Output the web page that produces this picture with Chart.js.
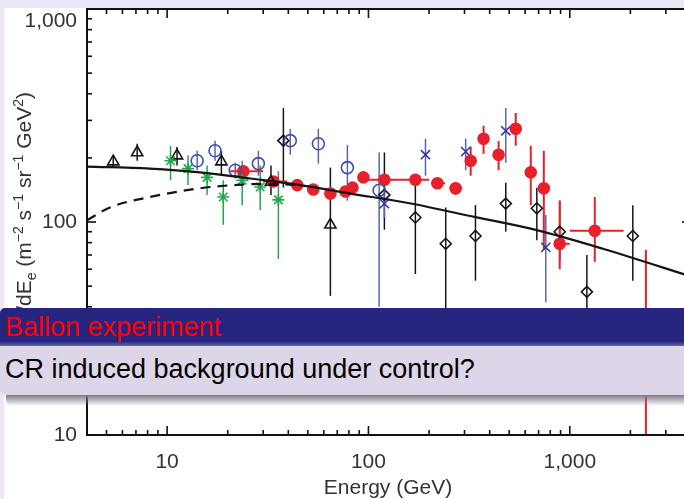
<!DOCTYPE html>
<html>
<head>
<meta charset="utf-8">
<script src="https://cdn.jsdelivr.net/npm/chart.js@4.4.1/dist/chart.umd.min.js"></script>
<style>
  html, body { margin: 0; padding: 0; }
  body { width: 684px; height: 499px; overflow: hidden; position: relative; background: #ffffff; }
  #chart { position: absolute; left: 0; top: 0; }
  .blk { position: absolute; left: 0; top: 308px; width: 700px; font-family: "Liberation Sans", Arial, sans-serif; font-size: 27px; }
  .blk-title { height: 38px; line-height: 38px; padding-left: 5px; color: #ff0000;
               background: linear-gradient(#262680 0%, #262680 88%, #6a66a8 100%); border-top-left-radius: 5px; }
  .blk-body { height: 49px; line-height: 46px; padding-left: 5px; color: #000;
              background: #ddd5e8; border-bottom-left-radius: 6px; }
  .blk-shadow { position: absolute; left: 6px; top: 395px; width: 700px; height: 11px;
                background: linear-gradient(#807888, rgba(255,255,255,0)); border-bottom-left-radius: 6px; }
</style>
</head>
<body>
<canvas id="chart" width="700" height="499"></canvas>
<div class="blk-shadow"></div>
<div class="blk">
  <div class="blk-title">Ballon experiment</div>
  <div class="blk-body">CR induced background under control?</div>
</div>
<script>
// ── Axis ticks ──────────────────────────────────────────────────────
const xTickLabels = [10, 100, 1000];
const yTickLabels = [10, 100, 1000];
const xMinorTicks = [5, 6, 7, 8, 9, 20, 30, 40, 50, 60, 70, 80, 90, 200, 300, 400, 500, 600, 700, 800, 900, 2000, 3000];
const yMinorTicks = [20, 30, 40, 50, 60, 70, 80, 90, 200, 300, 400, 500, 600, 700, 800, 900];

// ── Black open triangles ────────────────────────────────────────────
const triE  = [5.4, 7.1, 11.2, 18.6, 32.8, 64.7];
const triF  = [192, 212, 205, 192, 154, 97];
const triLo = [180, 194, 184, 167, 134, 45];
const triHi = [204, 233, 225, 216, 184, 180];

// ── Blue open circles ───────────────────────────────────────────────
const bcE  = [14.1, 17.3, 21.8, 28.4, 40.9, 56.4, 78.6, 113];
const bcF  = [194, 216, 175, 188, 241, 233, 180, 141];
const bcLo = [175, 194, 160, 165, 207, 188, 126, 40];
const bcHi = [216, 241, 190, 216, 274, 274, 230, 212];

// ── Blue crosses ────────────────────────────────────────────────────
const bxE  = [120, 192, 304, 481, 760];
const bxF  = [122, 207, 214, 268, 76];
const bxLo = [105, 165, 175, 190, 42];
const bxHi = [135, 246, 246, 343, 108];

// ── Green asterisks ─────────────────────────────────────────────────
const grE  = [10.4, 12.7, 15.8, 19.0, 23.6, 29.0, 35.7];
const grF  = [194, 178, 162, 131, 157, 146, 127];
const grLo = [157, 149, 134, 97, 120, 114, 67];
const grHi = [228, 205, 184, 157, 194, 184, 173];

// ── Red filled circles (ATIC) ───────────────────────────────────────
const atE   = [23.9, 33.7, 44.3, 53.2, 64.7, 76.9, 83.3, 94.4, 120, 171, 220, 271, 322, 373, 443, 539, 640, 743, 891, 1331, 2388];
const atF   = [173, 155, 149, 142, 136, 139, 145, 162, 158, 158, 152, 144, 194, 246, 207, 274, 171, 144, 79, 91, 31];
const atLo  = [165, 148, 143, 137, 131, 134, 139, 155, 150, 148, 143, 134, 165, 209, 175, 228, 120, 74, 60, 65, 10];
const atHi  = [181, 162, 155, 147, 141, 144, 151, 169, 166, 168, 161, 154, 226, 283, 240, 325, 228, 216, 126, 131, 74];
const atXLo = [20.6, 30, 44.3, 53.2, 64.7, 76.9, 83.3, 94.4, 94.4, 140, 205, 253, 322, 373, 443, 539, 640, 743, 850, 1000, 2388];
const atXHi = [30, 39.5, 44.3, 53.2, 64.7, 76.9, 83.3, 94.4, 140, 200, 240, 292, 322, 373, 443, 539, 640, 743, 1000, 1850, 2388];

// ── Black open diamonds ─────────────────────────────────────────────
const dmE  = [37.8, 120, 171, 242, 340, 481, 686, 891, 1216, 2056];
const dmF  = [241, 134, 105, 79, 86, 122, 116, 90, 47, 86];
const dmLo = [145, 92, 57, 30, 53, 90, 82, 66, 30, 53];
const dmHi = [343, 212, 157, 117, 120, 153, 145, 126, 70, 120];

// ── Model curves ────────────────────────────────────────────────────
const modelE = [4.0, 8.2, 14.6, 25.9, 45.9, 81.4, 160, 340, 678, 1459, 4000];
const modelF = [182, 178, 171, 160, 149, 136, 122.5, 105.4, 91.8, 74.9, 55.5];
const bgE = [4.0, 5.2, 8.2, 14.6, 21.3, 31.4, 45.9];
const bgF = [102, 117, 131, 144, 149, 151, 149];

/// Helper – zip arrays into point objects with error ranges.
function pts(E, F, lo, hi, xlo, xhi) {
  return E.map((e, i) => ({
    x: e, y: F[i],
    lo: lo ? lo[i] : null, hi: hi ? hi[i] : null,
    xlo: xlo ? xlo[i] : null, xhi: xhi ? xhi[i] : null
  }));
}

/// Helper – marker dataset.
function markers(data, style, color, radius, fill, barColor) {
  return {
    data, pointStyle: style, pointRadius: radius, pointBorderWidth: 1.6,
    borderColor: color, backgroundColor: fill, pointBackgroundColor: fill,
    errColor: barColor || color, showLine: false
  };
}

const RED = "#e8202a", BLUE = "#3f4ea8", GREEN = "#22a84a", BLACK = "#151515";

// ── Plugin: background, error bars, frame, ticks and labels ─────────
const decor = {
  id: "decor",
  beforeDatasetsDraw(chart) {
    const { ctx, chartArea: a, scales: { x, y } } = chart;
    ctx.save();
    ctx.beginPath();
    ctx.rect(a.left, a.top, a.right - a.left, a.bottom - a.top);
    ctx.clip();
    chart.data.datasets.forEach(ds => {
      if (!ds.errColor) return;
      ctx.strokeStyle = ds.errColor;
      ctx.lineWidth = ds.errColor === RED ? 2 : 1.5;
      ds.data.forEach(p => {
        const px = x.getPixelForValue(p.x), py = y.getPixelForValue(p.y);
        if (p.lo != null) {
          ctx.beginPath();
          ctx.moveTo(px, y.getPixelForValue(p.lo));
          ctx.lineTo(px, y.getPixelForValue(p.hi));
          ctx.stroke();
        }
        if (p.xlo != null && p.xlo !== p.xhi) {
          ctx.beginPath();
          ctx.moveTo(x.getPixelForValue(p.xlo), py);
          ctx.lineTo(x.getPixelForValue(p.xhi), py);
          ctx.stroke();
        }
      });
    });
    ctx.restore();
  },
  afterDraw(chart) {
    const { ctx, chartArea: a, scales: { x, y } } = chart;
    ctx.save();
    // frame
    ctx.strokeStyle = "#111";
    ctx.lineWidth = 2;
    ctx.strokeRect(a.left, a.top, a.right - a.left, a.bottom - a.top);
    ctx.lineWidth = 1.6;
    const seg = (x1, y1, x2, y2) => { ctx.beginPath(); ctx.moveTo(x1, y1); ctx.lineTo(x2, y2); ctx.stroke(); };
    const xt = (v, len) => { const p = x.getPixelForValue(v); seg(p, a.bottom, p, a.bottom - len); seg(p, a.top, p, a.top + len); };
    const yt = (v, len) => { const p = y.getPixelForValue(v); seg(a.left, p, a.left + len, p); seg(a.right, p, a.right - len, p); };
    xTickLabels.forEach(v => xt(v, 9));
    xMinorTicks.forEach(v => xt(v, 5));
    yTickLabels.forEach(v => yt(v, 9));
    yMinorTicks.forEach(v => yt(v, 5));

    // tick labels
    ctx.fillStyle = "#333";
    ctx.font = '21px "Liberation Sans", Arial, sans-serif';
    ctx.textBaseline = "middle";
    ctx.textAlign = "center";
    xTickLabels.forEach(v => ctx.fillText(v.toLocaleString("en-US"), x.getPixelForValue(v), 462));
    ctx.textAlign = "right";
    yTickLabels.forEach(v => ctx.fillText(v.toLocaleString("en-US"), a.left - 10, Math.max(y.getPixelForValue(v), 21)));
    ctx.textAlign = "center";
    ctx.fillText("Energy (GeV)", 388, 488);

    // rotated y-axis title, drawn as segments (normal / super / subscript)
    const parts = [
      ["E", 0, 1], ["3", -8, 0.68], [" dN/d", 0, 1], ["E", 0, 1], ["e", 5, 0.68],
      [" (m", 0, 1], ["\u22122", -8, 0.68], [" s", 0, 1], ["\u22121", -8, 0.68],
      [" sr", 0, 1], ["\u22121", -8, 0.68], [" GeV", 0, 1], ["2", -8, 0.68], [")", 0, 1]
    ];
    const fs = 21;
    const fnt = s => Math.round(fs * s) + 'px "Liberation Sans", Arial, sans-serif';
    let total = 0;
    parts.forEach(p => { ctx.font = fnt(p[2]); total += ctx.measureText(p[0]).width; });
    ctx.translate(31, 92);
    ctx.rotate(-Math.PI / 2);
    ctx.textAlign = "left";
    ctx.textBaseline = "alphabetic";
    let cx = -total;
    parts.forEach(p => { ctx.font = fnt(p[2]); ctx.fillText(p[0], cx, p[1]); cx += ctx.measureText(p[0]).width; });
    ctx.setTransform(1, 0, 0, 1, 0, 0);

    // slide background strips around the embedded figure
    ctx.fillStyle = "#ebe8f8";
    ctx.fillRect(0, 0, chart.width, 8);
    ctx.fillStyle = "#efe6f3";
    ctx.fillRect(0, 8, 4, chart.height);
    ctx.restore();
  }
};

new Chart(document.getElementById("chart"), {
  type: "scatter",
  data: {
    datasets: [
      { data: pts(modelE, modelF), showLine: true, borderColor: BLACK, borderWidth: 2.2, pointRadius: 0, cubicInterpolationMode: "monotone" },
      { data: pts(bgE, bgF), showLine: true, borderColor: BLACK, borderWidth: 2.2, borderDash: [10, 7], pointRadius: 0, cubicInterpolationMode: "monotone" },
      markers(pts(grE, grF, grLo, grHi), "star", GREEN, 6, GREEN),
      markers(pts(triE, triF, triLo, triHi), "triangle", BLACK, 6.5, "rgba(0,0,0,0)"),
      markers(pts(bcE, bcF, bcLo, bcHi), "circle", BLUE, 6, "rgba(0,0,0,0)", "#5866b4"),
      markers(pts(dmE, dmF, dmLo, dmHi), "rectRot", BLACK, 5.5, "rgba(0,0,0,0)"),
      markers(pts(atE, atF, atLo, atHi, atXLo, atXHi), "circle", RED, 5.5, RED),
      markers(pts(bxE, bxF, bxLo, bxHi), "crossRot", "#333a9a", 6.5, "#333a9a", "#5866b4")
    ]
  },
  options: {
    responsive: false,
    animation: false,
    layout: { padding: { left: 87, top: 9, right: 9, bottom: 64 } },
    plugins: { legend: { display: false }, tooltip: { enabled: false } },
    scales: {
      x: { type: "logarithmic", min: 4, max: 4000, display: false },
      y: { type: "logarithmic", min: 10, max: 1000, display: false }
    }
  },
  plugins: [decor]
});
</script>
</body>
</html>
